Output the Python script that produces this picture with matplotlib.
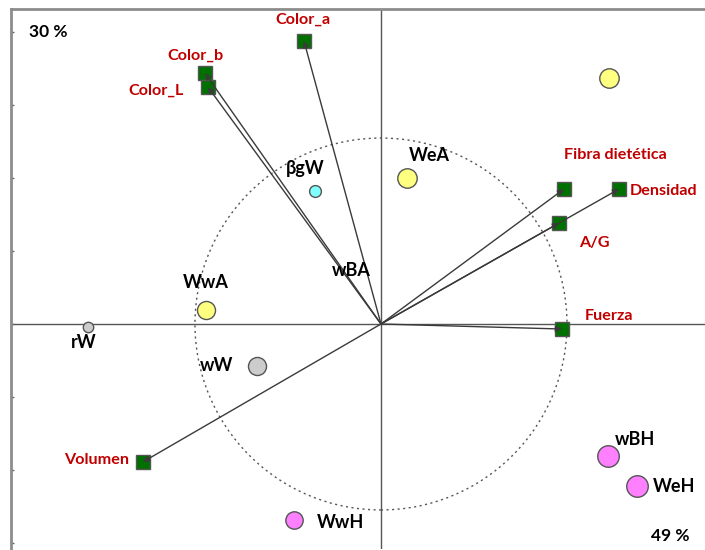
"""
Biplot (PCA) of wheat samples and quality variables, redrawn with matplotlib
"""

### Import modules
import numpy as np
import matplotlib.pyplot as plt
from matplotlib.patches import Circle

### Variables (vectors), in units of the correlation circle
varnames = ['Color_a', 'Color_b', 'Color_L', 'Fibra dietética', 'Densidad',
            'A/G', 'Fuerza', 'Volumen']
varx = [-0.414, -0.946, -0.930, 0.984, 1.280, 0.957, 0.973, -1.280]
vary = [1.522, 1.349, 1.274, 0.726, 0.726, 0.543, -0.027, -0.742]

### Samples (observations)
obsnames = ['βgW', 'WeA', '', 'WwA', 'rW', 'wW', 'WwH', 'wBH', 'WeH']
obsx = [-0.355, 0.140, 1.226, -0.941, -1.575, -0.667, -0.468, 1.220, 1.376]
obsy = [0.715, 0.785, 1.323, 0.075, -0.016, -0.226, -1.054, -0.710, -0.871]
obsgroup = ['b', 'A', 'A', 'A', 'r', 'r', 'H', 'H', 'H']

### Axis inertia
pct1 = '49 %'
pct2 = '30 %'

### Styles
plt.rcParams['font.family'] = ['Lato', 'DejaVu Sans']
groupcolor = {'A': '#ffff80', 'b': '#80ffff', 'r': '#cccccc', 'H': '#ff80ff'}
obssize = [8.5, 14, 14, 13, 7.5, 13, 12.5, 15.5, 15.5]
varlab = [(-0.419, 1.634, 'center'), (-1.0, 1.441, 'center'),
          (-1.210, 1.253, 'center'), (1.258, 0.909, 'center'),
          (1.337, 0.715, 'left'), (1.145, 0.435, 'center'),
          (1.226, 0.045, 'center'), (-1.527, -0.731, 'center')]
obslab = [(-0.409, 0.835, 'center'), (0.258, 0.905, 'center'), None,
          (-0.941, 0.225, 'center'), (-1.597, -0.100, 'center'),
          (-0.882, -0.222, 'center'), (-0.220, -1.068, 'center'),
          (1.366, -0.620, 'center'), (1.462, -0.872, 'left')]

fig = plt.figure(figsize=(7.05, 5.5), dpi=100)
ax = fig.add_axes([11/705., 1/550., 694/705., 540/550.])
ax.set_xlim(-1.989, 1.742)
ax.set_ylim(-1.210, 1.694)

### Frame: only left and top visible
for loc in ['right', 'bottom']:
    ax.spines[loc].set_visible(False)
for loc in ['left', 'top']:
    ax.spines[loc].set_color('#8c8c8c')
    ax.spines[loc].set_linewidth(2)
ax.set_xticks([])
step = 73/186.
ax.set_yticks(np.arange(-3, 5)*step)
ax.set_yticklabels([])
ax.tick_params('y', length=2, width=1, color='#666666', direction='in')

### Axes through origin and correlation circle
ax.axhline(0, color='#555555', linewidth=1, zorder=1)
ax.axvline(0, color='#555555', linewidth=1, zorder=1)
ax.add_patch(Circle((0, 0), 1.0, fill=False, edgecolor='#555555',
                    linestyle=(0, (1.5, 2.5)), linewidth=1, zorder=1))

### Observations
for i in range(len(obsx)):
    ax.plot(obsx[i], obsy[i], 'o', markersize=obssize[i],
            markerfacecolor=groupcolor[obsgroup[i]],
            markeredgecolor='#555555', markeredgewidth=1, zorder=3)
    if obslab[i] is not None:
        ax.text(obslab[i][0], obslab[i][1], obsnames[i], ha=obslab[i][2],
                va='center', fontsize=13, fontweight='bold', color='k',
                zorder=5)
ax.text(-0.161, 0.290, 'wBA', ha='center', va='center', fontsize=13,
        fontweight='bold', color='k', zorder=5)

### Variable vectors
for i in range(len(varx)):
    ax.plot(varx[i], vary[i], 's', markersize=10, markerfacecolor='#007000',
            markeredgecolor='#555555', markeredgewidth=1, zorder=3)
    ax.annotate('', xy=(varx[i], vary[i]), xytext=(0, 0),
                arrowprops=dict(arrowstyle='-|>', color='#3a3a3a', lw=1,
                                mutation_scale=9, shrinkA=0, shrinkB=0),
                zorder=4)
    ax.text(varlab[i][0], varlab[i][1], varnames[i], ha=varlab[i][2],
            va='center', fontsize=11.6, fontweight='bold', color='#c00000',
            zorder=5)

### Inertia labels
ax.text(48/705., 1-32/550., pct2, transform=fig.transFigure, ha='center',
        va='center', fontsize=12.5, fontweight='bold', color='k')
ax.text(670/705., 1-536/550., pct1, transform=fig.transFigure, ha='center',
        va='center', fontsize=12.5, fontweight='bold', color='k')

plt.savefig('out.png', dpi=100, facecolor='white')
